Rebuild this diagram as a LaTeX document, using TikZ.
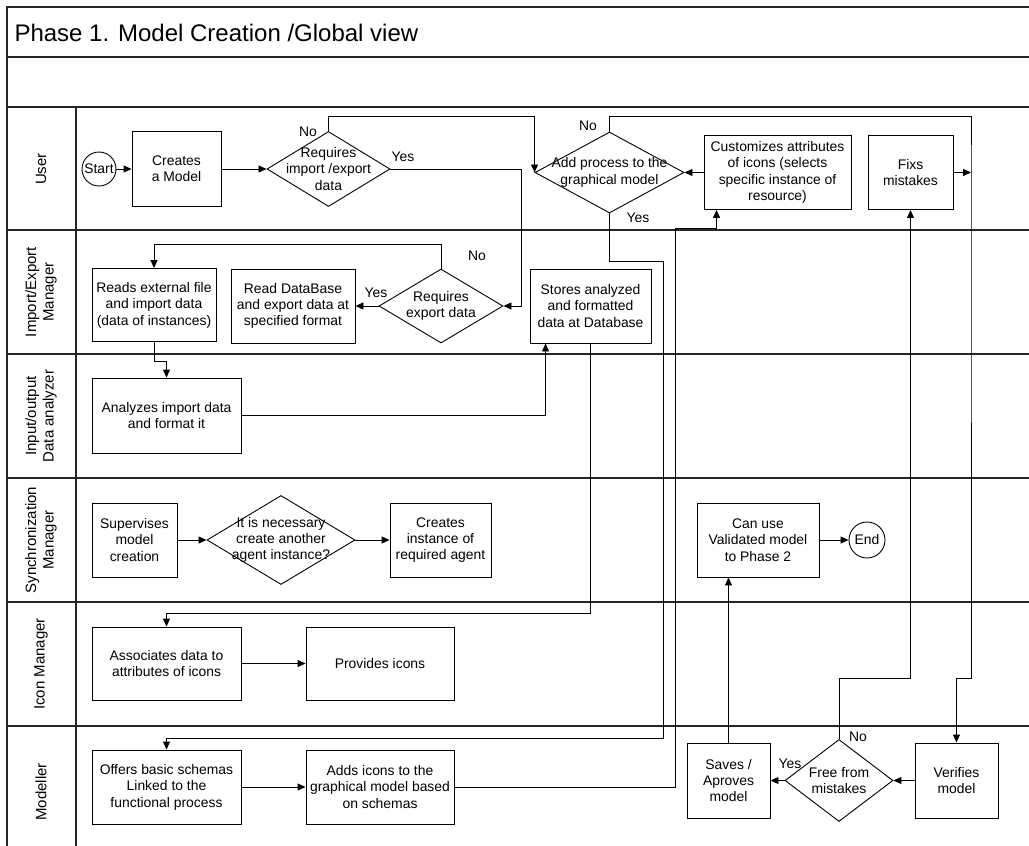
\documentclass[tikz,border=0pt]{standalone}
\usepackage{fontspec}
\setmainfont{Liberation Sans}
\usetikzlibrary{shapes.geometric,arrows.meta,calc}

\begin{document}
\begin{tikzpicture}[x=1pt,y=-1pt,
  txt/.style={font=\fontsize{13.9}{16.4}\selectfont},
  lanetxt/.style={font=\fontsize{15}{17.5}\selectfont, rotate=90, align=center},
  proc/.style={txt, draw, line width=0.9pt, align=center, inner sep=0pt},
  decision/.style={txt, diamond, draw, line width=0.9pt, inner sep=0pt},
  terminal/.style={txt, circle, draw, line width=0.9pt, inner sep=0pt},
  lane/.style={line width=1.3pt, draw=black!85},
  arr/.style={line width=0.9pt, -{Triangle[length=8pt,width=7pt]}},
  ans/.style={txt, inner sep=0pt}
]
\useasboundingbox (0,0) rectangle (1029,846);

% ---- frame and swimlanes ----
\draw[lane] (7,846) -- (7,7) -- (1040,7);
\foreach \yy in {57,107,230,354,478,602,726}
  \draw[lane] (7,\yy) -- (1040,\yy);
\draw[lane] (76,107) -- (76,846);

\node[anchor=west, font=\fontsize{24}{28}\selectfont] (title) at (11,33) {Phase 1. Model Creation /Global view};

\node[lanetxt] (lUser)  at (41,169) {User};
\node[lanetxt] (lIE)    at (41,292) {Import/Export\\Manager};
\node[lanetxt] (lIO)    at (41,416) {Input/output\\Data analyzer};
\node[lanetxt] (lSync)  at (41,540) {Synchronization\\Manager};
\node[lanetxt] (lIcon)  at (41,664) {Icon Manager};
\node[lanetxt] (lMod)   at (41,792) {Modeller};

% ---- User ----
\node[terminal, minimum size=34pt] (start) at (99,169) {Start};
\node[proc, minimum width=89pt, minimum height=75pt] (create) at (176.5,169) {Creates\\a Model};
\node[decision, minimum width=123pt, minimum height=75pt] (q1) at (328.5,169)
  {\makebox[0pt]{\parbox{0pt}{\centering\makebox[0pt]{Requires}\\\makebox[0pt]{import /export}\\\makebox[0pt]{data}}}};
\node[decision, minimum width=149pt, minimum height=81pt] (add) at (609.5,172.5)
  {\makebox[0pt]{\parbox{0pt}{\centering\makebox[0pt]{Add process to the}\\\makebox[0pt]{graphical model}}}};
\node[proc, minimum width=147pt, minimum height=74pt] (custom) at (777.5,172.5)
  {Customizes attributes\\of icons (selects\\specific instance of\\resource)};
\node[proc, minimum width=85pt, minimum height=74pt] (fix) at (910.5,172.5) {Fixs\\mistakes};
\coordinate (fixjoin) at (971,172.5);

% ---- Import/Export Manager ----
\node[proc, minimum width=124pt, minimum height=73pt] (reads) at (154,305)
  {Reads external file\\and import data\\(data of instances)};
\node[proc, minimum width=124pt, minimum height=74pt] (readdb) at (293,306)
  {Read DataBase\\and export data at\\specified format};
\node[decision, minimum width=124pt, minimum height=74pt] (q2) at (441,306)
  {\makebox[0pt]{\parbox{0pt}{\centering\makebox[0pt]{Requires}\\\makebox[0pt]{export data}}}};
\node[proc, minimum width=121pt, minimum height=74pt] (stores) at (590.5,306)
  {Stores analyzed\\and formatted\\data at Database};

% ---- Input/output Data analyzer ----
\node[proc, minimum width=149pt, minimum height=75pt] (analyze) at (166.5,415.5)
  {Analyzes import data\\and format it};

% ---- Synchronization Manager ----
\node[proc, minimum width=85pt, minimum height=74pt] (superv) at (134.5,540)
  {Supervises\\model\\creation};
\node[decision, minimum width=148pt, minimum height=89pt] (q3) at (281,540)
  {\makebox[0pt]{\parbox{0pt}{\centering\makebox[0pt]{It is necessary}\\\makebox[0pt]{create another}\\\makebox[0pt]{agent instance?}}}};
\node[proc, minimum width=101pt, minimum height=74pt] (createinst) at (440.5,540)
  {Creates\\instance of\\required agent};
\node[proc, minimum width=122pt, minimum height=74pt] (canuse) at (758,540)
  {Can use\\Validated model\\to Phase 2};
\node[terminal, minimum size=36pt] (end) at (867,540) {End};

% ---- Icon Manager ----
\node[proc, minimum width=149pt, minimum height=73pt] (assoc) at (166.5,663.5)
  {Associates data to\\attributes of icons};
\node[proc, minimum width=148pt, minimum height=73pt] (provides) at (380,663.5)
  {Provides icons};

% ---- Modeller ----
\node[proc, minimum width=149pt, minimum height=74pt] (offers) at (166.5,787)
  {Offers basic schemas\\Linked to the\\functional process};
\node[proc, minimum width=148pt, minimum height=74pt] (adds) at (380,787)
  {Adds icons to the\\graphical model based\\on schemas};
\node[proc, minimum width=83pt, minimum height=75pt] (saves) at (728.5,780.5)
  {Saves /\\Aproves\\model};
\node[decision, minimum width=108pt, minimum height=82pt] (q4) at (839,780.5)
  {\makebox[0pt]{\parbox{0pt}{\centering\makebox[0pt]{Free from}\\\makebox[0pt]{mistakes}}}};
\node[proc, minimum width=83pt, minimum height=75pt] (verify) at (956.5,780.5)
  {Verifies\\model};

% ---- answer labels ----
\node[ans] (q1no)  at (308,132) {No};
\node[ans] (q1yes) at (403,157) {Yes};
\node[ans] (addno) at (588,126) {No};
\node[ans] (addyes) at (638,218) {Yes};
\node[ans] (q2yes) at (376,293) {Yes};
\node[ans] (q2no)  at (477,256) {No};
\node[ans] (q4yes) at (790,764) {Yes};
\node[ans] (q4no)  at (858,737) {No};

% ---- connectors ----
\draw[arr] (start) -- (create);
\draw[arr] (create) -- (q1);
\draw[arr] (q1.north) -- ++(0,-15) -| (add.west);
\draw[arr] (q1.east) -- ++(131,0) |- (q2.east);
\draw[arr] (custom) -- (add);
\draw[arr] (add.north) -- ++(0,-15) -| (fixjoin) -- (971,678) -| (verify.north);
\draw[arr] (fix) -- (fixjoin);
\draw[arr] (add.south) -- ++(0,48) -| (663,738) -| (offers.north);
\draw[arr] (adds.east) -| (675,228) -| ([xshift=13pt]custom.south west);
\draw[arr] (stores.south) -- (stores.south |- 0,613) -| (assoc.north);
\draw[arr] (q2.west) -- (readdb.east);
\draw[arr] (q2.north) -- ++(0,-24) -| (reads.north);
\draw[arr] (reads.south) -- ++(0,19) -| (analyze.north);
\draw[arr] (analyze.east) -| ([xshift=16pt]stores.south west);
\draw[arr] (superv) -- (q3);
\draw[arr] (q3) -- (createinst);
\draw[arr] (canuse) -- (end);
\draw[arr] (assoc) -- (provides);
\draw[arr] (offers) -- (adds);
\draw[arr] (verify) -- (q4);
\draw[arr] (q4) -- (saves);
\draw[arr] (q4.north) -- ++(0,-61) -| (fix.south);
\draw[arr] (saves.north) -- (saves.north |- canuse.south);
\end{tikzpicture}
\end{document}
